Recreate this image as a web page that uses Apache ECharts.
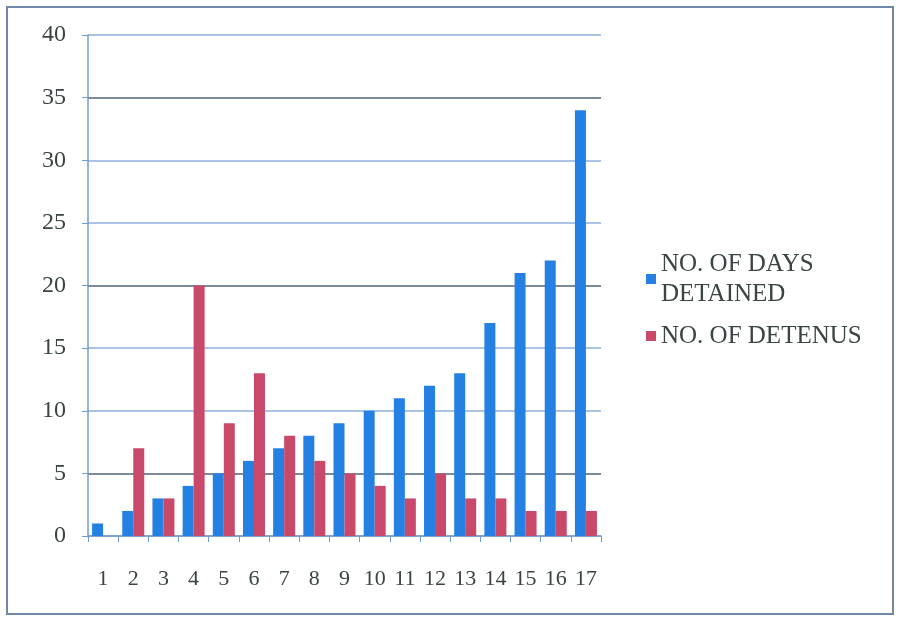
<!DOCTYPE html>
<html>
<head>
<meta charset="utf-8">
<script src="https://cdn.jsdelivr.net/npm/echarts@6/dist/echarts.min.js"></script>
<style>
  html, body { margin: 0; padding: 0; background: #fff; }
  #chartmain { width: 901px; height: 620px; }
</style>
</head>
<body>
<div id="chartmain"></div>
<script>
var categories = ['1', '2', '3', '4', '5', '6', '7', '8', '9', '10', '11', '12', '13', '14', '15', '16', '17'];
var daysDetained = [1, 2, 3, 4, 5, 6, 7, 8, 9, 10, 11, 12, 13, 17, 21, 22, 34];
var detenus = [0, 7, 3, 20, 9, 13, 8, 6, 5, 4, 3, 5, 3, 3, 2, 2, 2];
var seriesNames = ['NO. OF DAYS DETAINED', 'NO. OF DETENUS'];

var textColor = '#3a4444';
var fontFamily = '"Liberation Serif", "DejaVu Serif", serif';

var option = {
	backgroundColor: '#ffffff',
	animation: false,
	textStyle: { fontFamily: fontFamily },
	graphic: [{
		type: 'rect',
		shape: { x: 7, y: 7, width: 886, height: 607 },
		style: { fill: 'none', stroke: '#6f88a8', lineWidth: 2 }
	}],
	grid: { left: 88, right: 300, top: 35, bottom: 84 },
	legend: {
		orient: 'vertical',
		left: 641,
		top: 244,
		itemWidth: 10,
		itemHeight: 10,
		itemGap: 12,
		icon: 'rect',
		data: seriesNames,
		formatter: function (name) {
			return name === seriesNames[0] ? 'NO. OF DAYS\nDETAINED' : name;
		},
		textStyle: { color: textColor, fontSize: 25, fontFamily: fontFamily, lineHeight: 30 }
	},
	xAxis: {
		type: 'category',
		data: categories,
		axisLine: { lineStyle: { color: '#6f9bd0', width: 1.5 } },
		axisTick: { show: true, length: 6, lineStyle: { color: '#6f9bd0' } },
		axisLabel: { color: textColor, fontSize: 22, margin: 32, fontFamily: fontFamily, interval: 0 }
	},
	yAxis: {
		type: 'value',
		min: 0,
		max: 40,
		interval: 5,
		axisLine: { show: true, lineStyle: { color: '#6f9bd0', width: 1.5 } },
		axisTick: { show: true, length: 6, lineStyle: { color: '#6f9bd0' } },
		axisLabel: { color: textColor, fontSize: 24, margin: 22, fontFamily: fontFamily },
		splitLine: {
			lineStyle: { color: ['#8fb0dc', '#4f6478', '#8fb0dc'], width: 1.5 }
		}
	},
	series: [{
		name: seriesNames[0],
		type: 'bar',
		data: daysDetained,
		barWidth: 11,
		barGap: '0%',
		itemStyle: { color: '#2580e4' }
	}, {
		name: seriesNames[1],
		type: 'bar',
		data: detenus,
		barWidth: 11,
		barGap: '0%',
		itemStyle: { color: '#c9496b' }
	}]
};

var myChart = echarts.init(document.getElementById('chartmain'));
myChart.setOption(option);
</script>
</body>
</html>
